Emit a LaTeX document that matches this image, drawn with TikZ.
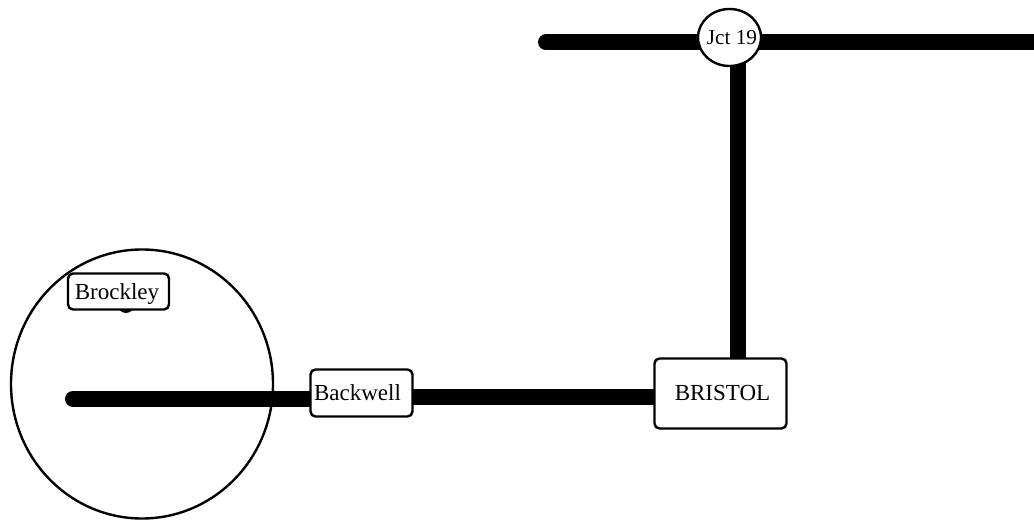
\documentclass[tikz,border=0pt]{standalone}
\usepackage{fontspec}
\setmainfont{Liberation Serif}
\usetikzlibrary{shapes.geometric,backgrounds}
\tikzset{
  road/.style={line width=16pt,line cap=round,black},
  place/.style={draw=black,line width=2.4pt,fill=white,rounded corners=5pt,inner sep=0pt,text depth=0pt,font=\fontsize{23}{27}\selectfont},
  junction/.style={draw=black,line width=2.4pt,fill=white,ellipse,inner sep=0pt,font=\fontsize{21.2}{25}\selectfont},
  zone/.style={draw=black,line width=2.4pt,ellipse,inner sep=0pt}
}
\begin{document}
\begin{tikzpicture}[x=1pt,y=-1pt]
\useasboundingbox (0,0) rectangle (1034,521);
\coordinate (brockleystub) at (126,305);
\coordinate (west) at (73,399);
\coordinate (mid) at (650,397);
\coordinate (jleft) at (546,42.5);
\coordinate (jright) at (1050,42.5);
\coordinate (jdown) at (737.5,50);
\node[place,minimum width=101pt,minimum height=36pt] (brockley) at (118.5,291.5) {Brockley\kern3pt};
\node[place,minimum width=102pt,minimum height=47pt] (backwell) at (361.5,393) {\raisebox{1pt}{Backwell}\kern8pt};
\node[place,minimum width=132pt,minimum height=70pt] (bristol) at (720.5,393.5) {\kern4pt\raisebox{1pt}{BRISTOL}};
\node[junction,minimum width=63pt,minimum height=57pt] (jct) at (729.5,37.5) {\makebox[0pt]{\kern5pt\raisebox{1pt}{Jct 19}}};
\begin{scope}[on background layer]
\node[zone,minimum width=262pt,minimum height=269pt] (zone) at (142,384) {};
\draw[road] (brockleystub) -- (brockleystub |- brockley.center);
\draw[road] (west) -- (backwell.center |- west);
\draw[road,line cap=butt] (backwell.center |- mid) -- (bristol.center |- mid);
\draw[road,line cap=butt] (jdown) -- (bristol.center -| jdown);
\draw[road] (jleft) -- (jct.center |- jleft);
\draw[road,line cap=butt] (jct.center |- jright) -- (jright);
\end{scope}
\end{tikzpicture}
\end{document}
